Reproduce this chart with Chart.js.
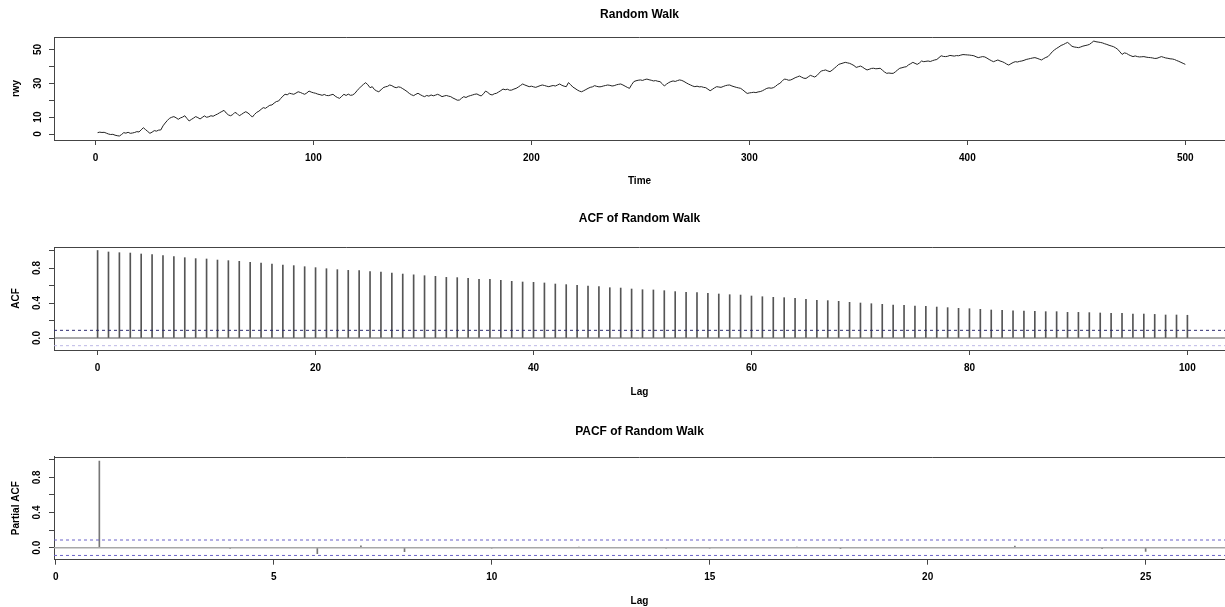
<!DOCTYPE html>
<html>
<head>
<meta charset="utf-8">
<title>Random Walk</title>
<script src="https://cdn.jsdelivr.net/npm/chart.js@4.4.1/dist/chart.umd.min.js"></script>
<style>
  body { margin: 0; background: #fff; }
  canvas.panel { position: absolute; left: 0; }
</style>
</head>
<body>
<canvas id="rwChart" class="panel" width="1225" height="200" style="top:0px"></canvas>
<canvas id="acfChart" class="panel" width="1225" height="210" style="top:200px"></canvas>
<canvas id="pacfChart" class="panel" width="1225" height="197" style="top:410px"></canvas>
<script>
// random walk, t = 1..500
const rwValues = [
  0.8, 1.1, 0.9, 1.0, 0.5, 0.0, -0.3, -0.2, -0.7, -1.0,
  -1.2, -0.3, 0.8, 0.5, 1.0, 0.4, 0.6, 0.9, 1.4, 1.2,
  2.5, 3.7, 2.6, 1.5, 0.4, 1.1, 2.0, 1.7, 2.3, 2.4,
  4.8, 6.5, 8.0, 9.3, 9.9, 10.3, 9.6, 8.7, 9.5, 10.0,
  10.8, 9.2, 7.7, 8.6, 9.4, 10.3, 9.7, 8.9, 9.8, 10.7,
  9.9, 10.2, 10.8, 10.5, 11.2, 11.8, 12.6, 13.3, 14.0, 12.4,
  11.3, 10.8, 11.5, 12.8, 12.1, 10.8, 11.6, 12.5, 13.2, 12.4,
  11.3, 10.0, 11.6, 12.8, 13.5, 14.6, 15.6, 15.2, 16.1, 17.0,
  17.2, 18.3, 19.2, 19.5, 21.0, 22.4, 23.5, 23.2, 24.1, 23.8,
  23.5, 24.2, 25.0, 24.6, 24.0, 23.5, 24.3, 25.4, 24.8, 24.4,
  24.1, 23.6, 23.3, 22.9, 23.4, 22.8, 22.7, 23.1, 23.5, 22.4,
  21.6, 21.1, 22.3, 23.5, 22.8, 23.6, 22.9, 23.1, 24.0, 25.6,
  27.0, 28.3, 29.4, 30.4, 29.1, 27.4, 28.0, 26.3, 25.5, 25.0,
  26.1, 27.4, 27.9, 28.2, 29.0, 28.6, 27.8, 27.4, 27.9, 27.6,
  26.8, 26.0, 25.1, 24.0, 23.2, 22.7, 23.5, 24.1, 23.3, 22.6,
  22.1, 22.8, 22.4, 23.1, 22.6, 23.0, 23.5, 22.9, 22.1, 22.5,
  22.8, 22.4, 22.1, 21.3, 20.7, 20.0, 20.1, 21.2, 22.1, 21.6,
  22.3, 22.7, 23.1, 23.5, 23.7, 23.0, 22.5, 23.8, 25.4, 24.6,
  23.5, 23.1, 23.8, 24.1, 24.9, 25.7, 26.6, 26.2, 26.5, 25.9,
  26.0, 26.6, 27.0, 27.8, 28.7, 29.6, 29.0, 28.5, 28.0, 28.3,
  27.9, 27.6, 28.1, 28.6, 29.0, 28.7, 28.3, 28.0, 28.4, 28.7,
  28.4, 29.0, 29.6, 28.8, 28.3, 28.0, 30.4, 29.2, 27.8, 27.0,
  26.1, 25.4, 25.0, 25.6, 26.3, 27.0, 27.6, 27.9, 28.6, 28.2,
  27.9, 28.0, 28.4, 28.7, 29.0, 28.8, 28.4, 28.6, 29.1, 29.4,
  29.6, 29.0, 28.3, 27.6, 27.0, 29.2, 31.0, 31.5, 31.8, 32.0,
  31.7, 32.2, 32.5, 32.1, 31.8, 31.4, 31.6, 31.2, 31.0, 29.8,
  28.4, 29.5, 30.4, 31.0, 31.4, 31.1, 31.6, 32.0, 31.7, 31.1,
  30.3, 29.6, 29.0, 28.4, 28.0, 28.3, 27.9, 28.0, 27.6, 27.4,
  26.5, 25.6, 26.4, 27.3, 28.0, 27.8, 27.6, 28.1, 28.6, 28.9,
  29.0, 28.4, 28.0, 27.6, 27.3, 27.0, 26.1, 25.0, 24.0, 24.3,
  24.5, 24.7, 24.5, 24.9, 25.1, 25.6, 26.3, 27.0, 27.3, 27.1,
  27.4, 28.2, 29.3, 30.0, 31.2, 32.5, 32.3, 31.8, 32.0, 32.6,
  33.3, 33.8, 34.3, 33.6, 33.0, 32.9, 33.8, 34.7, 34.2, 33.7,
  34.6, 36.0, 37.3, 37.6, 37.9, 37.3, 36.9, 37.8, 38.9, 40.0,
  41.2, 41.6, 42.0, 42.4, 42.1, 41.8, 41.2, 40.5, 39.4, 39.8,
  40.2, 39.5, 38.6, 37.9, 38.3, 38.8, 38.9, 38.6, 38.7, 38.9,
  37.8, 36.7, 35.9, 36.1, 35.9, 35.9, 36.8, 37.9, 38.9, 39.2,
  39.6, 39.8, 40.9, 41.6, 42.4, 41.8, 41.2, 42.0, 43.2, 42.8,
  43.0, 43.2, 42.9, 43.4, 43.8, 44.1, 45.2, 46.3, 45.9, 45.8,
  46.0, 46.5, 46.3, 46.1, 46.4, 46.3, 46.7, 47.0, 46.9, 46.8,
  46.7, 46.5, 46.3, 45.7, 45.2, 45.5, 45.8, 45.6, 44.9, 44.1,
  43.4, 42.8, 43.3, 43.8, 43.2, 42.8, 42.2, 41.4, 40.8, 41.6,
  42.3, 42.8, 42.6, 43.0, 43.2, 43.6, 44.1, 44.4, 44.7, 45.0,
  45.2, 44.8, 44.3, 43.8, 44.6, 45.3, 45.8, 47.2, 48.7, 49.8,
  50.7, 51.5, 52.4, 52.9, 53.6, 54.2, 53.1, 51.9, 51.5, 51.3,
  51.1, 51.5, 52.0, 52.3, 52.6, 53.0, 54.0, 55.0, 54.6, 54.4,
  54.2, 53.9, 53.4, 53.0, 52.5, 52.1, 51.7, 51.0, 50.1, 48.6,
  47.1, 48.0, 47.7, 46.9, 46.3, 45.8, 46.2, 45.8, 45.6, 45.7,
  45.8, 45.5, 45.3, 45.2, 45.0, 44.7, 44.8, 45.3, 45.8, 45.4,
  45.0, 44.8, 44.5, 44.4, 44.1, 43.5, 43.0, 42.4, 41.8, 41.2
];

// ACF, lags 0..100
const acfValues = [
  1.000, 0.983, 0.975, 0.971, 0.960, 0.952, 0.941, 0.930, 0.918, 0.907,
  0.903, 0.891, 0.884, 0.876, 0.865, 0.857, 0.846, 0.834, 0.827, 0.815,
  0.804, 0.792, 0.781, 0.773, 0.770, 0.760, 0.752, 0.741, 0.731, 0.722,
  0.712, 0.705, 0.693, 0.690, 0.682, 0.670, 0.670, 0.659, 0.648, 0.640,
  0.636, 0.629, 0.617, 0.610, 0.602, 0.594, 0.587, 0.575, 0.571, 0.560,
  0.552, 0.549, 0.541, 0.530, 0.522, 0.518, 0.510, 0.503, 0.495, 0.491,
  0.480, 0.472, 0.465, 0.461, 0.453, 0.442, 0.430, 0.427, 0.419, 0.408,
  0.400, 0.392, 0.385, 0.377, 0.373, 0.366, 0.362, 0.354, 0.347, 0.339,
  0.335, 0.328, 0.320, 0.316, 0.312, 0.309, 0.305, 0.301, 0.301, 0.293,
  0.293, 0.290, 0.286, 0.282, 0.282, 0.274, 0.274, 0.270, 0.263, 0.263,
  0.260
];

// PACF, lags 1..27
const pacfValues = [
  0.985, 0.002, 0.000, -0.008, 0.001, -0.068, 0.022, -0.045, 0.003, -0.006,
  0.002, 0.008, 0.000, -0.003, -0.006, 0.002, 0.006, -0.010, 0.001, 0.000,
  0.002, 0.020, 0.000, -0.010, -0.042, 0.003, -0.004
];

const ciBound = 0.0877;          // 95% band drawn by acf()/pacf()
const rwYLabels = [0, 10, 30, 50];
const acfYLabels = [0, 0.4, 0.8];

const axisColor = '#444';
const fontFamily = "'Liberation Sans', Arial, sans-serif";

// draws the top edge of the plot box (the right edge falls outside the page)
const boxTop = {
  id: 'boxTop',
  afterDraw(chart) {
    const { ctx, chartArea: a } = chart;
    ctx.save();
    ctx.strokeStyle = axisColor;
    ctx.lineWidth = 1;
    ctx.beginPath();
    ctx.moveTo(a.left, Math.round(a.top) + 0.5);
    ctx.lineTo(a.right, Math.round(a.top) + 0.5);
    ctx.stroke();
    ctx.restore();
  }
};

function panelOptions(p) {
  const tickFont = { family: fontFamily, size: 10, weight: 'bold' };
  const labelFont = { family: fontFamily, size: 10, weight: 'bold' };
  return {
    responsive: false,
    animation: false,
    layout: { padding: 0 },
    plugins: {
      legend: { display: false },
      tooltip: { enabled: false },
      title: {
        display: true,
        text: p.title,
        fullSize: false,
        color: '#000',
        font: { family: fontFamily, size: 12, weight: 'bold' },
        padding: { top: p.titleY - 7.2, bottom: p.areaTop - p.titleY - 7.2 }
      }
    },
    scales: {
      x: {
        type: 'linear',
        min: p.xMin,
        max: p.xMax,
        offset: false,
        afterFit: (s) => { s.height = p.height - p.areaBottom; },
        border: { color: axisColor, width: 1 },
        grid: { offset: false, drawOnChartArea: false, tickLength: 5, tickColor: axisColor },
        ticks: { stepSize: p.xStep, includeBounds: false, padding: p.xTickPad, color: '#000', font: tickFont },
        title: {
          display: true, text: p.xTitle, color: '#000', font: labelFont,
          padding: { top: 0, bottom: p.height - p.xTitleY - 6 }
        }
      },
      y: {
        min: p.yMin,
        max: p.yMax,
        afterFit: (s) => { s.width = 54; },
        border: { color: axisColor, width: 1 },
        grid: { drawOnChartArea: false, tickLength: 5, tickColor: axisColor },
        ticks: {
          stepSize: p.yStep,
          includeBounds: false,
          minRotation: 90,
          maxRotation: 90,
          crossAlign: 'center',
          padding: p.yTickPad,
          color: '#000',
          font: tickFont,
          callback: (v) => {
            const hit = p.yLabels.some((l) => Math.abs(l - v) < 1e-6);
            return hit ? p.yFormat(v) : '';
          }
        },
        title: {
          display: true, text: p.yTitle, color: '#000', font: labelFont,
          padding: { top: 10, bottom: 0 }
        }
      }
    }
  };
}

function hLine(y, xMin, xMax, color, dash, width) {
  return {
    type: 'line',
    data: [{ x: xMin, y: y }, { x: xMax, y: y }],
    borderColor: color,
    borderWidth: width || 1,
    borderDash: dash || [],
    pointRadius: 0
  };
}

function stems(values, firstLag, color) {
  return {
    type: 'bar',
    data: values.map((v, i) => ({ x: i + firstLag, y: v })),
    backgroundColor: color,
    borderWidth: 0,
    barThickness: 1,
    grouped: false
  };
}

// Random Walk
new Chart(document.getElementById('rwChart'), {
  type: 'line',
  data: {
    datasets: [{
      data: rwValues.map((v, i) => ({ x: i + 1, y: v })),
      borderColor: '#222',
      borderWidth: 1,
      pointRadius: 0,
      tension: 0
    }]
  },
  options: panelOptions({
    title: 'Random Walk', titleY: 14.5, height: 200, areaTop: 37, areaBottom: 140,
    xMin: -19, xMax: 518.2, xStep: 100, xTickPad: 7, xTitle: 'Time', xTitleY: 181,
    yMin: -3.55, yMax: 57.4, yStep: 10, yLabels: rwYLabels, yFormat: (v) => String(v),
    yTickPad: 5.4, yTitle: 'rwy'
  }),
  plugins: [boxTop]
});

// ACF
const acfXMin = -4, acfXMax = 103.45;
new Chart(document.getElementById('acfChart'), {
  type: 'bar',
  data: {
    datasets: [
      hLine(ciBound, acfXMin, acfXMax, '#2e2c70', [3, 3]),
      hLine(-ciBound, acfXMin, acfXMax, '#bdb8e6', [3, 3]),
      hLine(0, acfXMin, acfXMax, '#555'),
      stems(acfValues, 0, '#555')
    ]
  },
  options: panelOptions({
    title: 'ACF of Random Walk', titleY: 19, height: 210, areaTop: 47, areaBottom: 150,
    xMin: acfXMin, xMax: acfXMax, xStep: 20, xTickPad: 7, xTitle: 'Lag', xTitleY: 192,
    yMin: -0.137, yMax: 1.04, yStep: 0.2, yLabels: acfYLabels, yFormat: (v) => v.toFixed(1),
    yTickPad: 4.5, yTitle: 'ACF'
  }),
  plugins: [boxTop]
});

// PACF
const pacfXMin = -0.04, pacfXMax = 26.82;
new Chart(document.getElementById('pacfChart'), {
  type: 'bar',
  data: {
    datasets: [
      hLine(ciBound, pacfXMin, pacfXMax, '#6b63c8', [3, 3]),
      hLine(-ciBound, pacfXMin, pacfXMax, '#6b63c8', [3, 3]),
      hLine(0, pacfXMin, pacfXMax, '#a8a8a8', null, 1.5),
      stems(pacfValues, 1, '#777')
    ]
  },
  options: panelOptions({
    title: 'PACF of Random Walk', titleY: 22, height: 197, areaTop: 46.7, areaBottom: 149.7,
    xMin: pacfXMin, xMax: pacfXMax, xStep: 5, xTickPad: 7, xTitle: 'Lag', xTitleY: 191,
    yMin: -0.136, yMax: 1.034, yStep: 0.2, yLabels: acfYLabels, yFormat: (v) => v.toFixed(1),
    yTickPad: 4.5, yTitle: 'Partial ACF'
  }),
  plugins: [boxTop]
});
</script>
</body>
</html>
